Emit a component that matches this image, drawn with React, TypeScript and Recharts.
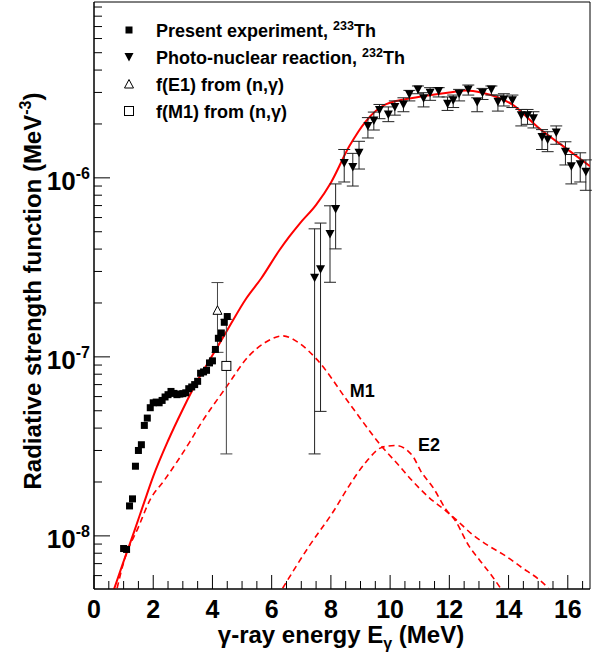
import React from "react";
import {
  ComposedChart,
  Line,
  Scatter,
  XAxis,
  YAxis,
  ErrorBar,
  ReferenceArea,
  ReferenceDot,
} from "recharts";

const FONT = "'Liberation Sans', Arial, Helvetica, sans-serif";
const PLOT_LEFT = 94;
const PLOT_BOTTOM = 589;

// present experiment, 233Th
const presentE = [
  1.0, 1.1, 1.2, 1.3, 1.4, 1.5, 1.6, 1.7, 1.8, 1.9, 2.0, 2.1, 2.2, 2.3, 2.4, 2.5, 2.6, 2.7,
  2.8, 2.9, 3.0, 3.1, 3.2, 3.3, 3.4, 3.5, 3.6, 3.7, 3.8, 3.9, 4.0, 4.1, 4.2, 4.3, 4.4, 4.5,
];
const presentF = [
  8.5e-9, 8.4e-9, 1.47e-8, 1.61e-8, 2.45e-8, 3.0e-8, 3.23e-8, 4.14e-8, 4.55e-8, 5.2e-8,
  5.54e-8, 5.59e-8, 5.54e-8, 5.71e-8, 5.97e-8, 6.15e-8, 6.41e-8, 6.25e-8, 6.15e-8, 6.2e-8,
  6.23e-8, 6.3e-8, 6.64e-8, 6.79e-8, 7.0e-8, 7.3e-8, 8.1e-8, 8.24e-8, 8.41e-8, 9.25e-8,
  9.5e-8, 1.1e-7, 1.27e-7, 1.36e-7, 1.56e-7, 1.68e-7,
];

// photo-nuclear reaction, 232Th
const photoE = [
  7.45, 7.65, 7.97, 8.16, 8.45, 8.74, 8.95, 9.25, 9.45, 9.64, 9.94, 10.16, 10.45, 10.65,
  10.94, 11.13, 11.35, 11.64, 11.94, 12.13, 12.33, 12.64, 12.94, 13.12, 13.42, 13.64, 13.84,
  14.13, 14.43, 14.64, 14.84, 15.13, 15.32, 15.61, 15.92, 16.12, 16.42, 16.61,
];
const photoF = [
  2.77e-7, 3.09e-7, 4.85e-7, 6.69e-7, 1.21e-6, 1.15e-6, 1.38e-6, 1.95e-6, 2.09e-6, 2.39e-6,
  2.26e-6, 2.49e-6, 2.57e-6, 2.93e-6, 3.12e-6, 2.78e-6, 2.99e-6, 3.06e-6, 2.59e-6, 2.71e-6,
  2.95e-6, 3.12e-6, 2.65e-6, 2.99e-6, 3.12e-6, 2.66e-6, 2.74e-6, 2.71e-6, 2.24e-6, 2.24e-6,
  2.15e-6, 1.69e-6, 1.64e-6, 1.79e-6, 1.4e-6, 1.16e-6, 1.19e-6, 1.08e-6,
];
const photoLo = [
  2.87e-8, 4.96e-8, 2.61e-7, 4.01e-7, 9.48e-7, 9.0e-7, 1.12e-6, 1.67e-6, 1.85e-6, 2.14e-6,
  2.06e-6, 2.24e-6, 2.34e-6, 2.69e-6, 2.95e-6, 2.49e-6, 2.71e-6, 2.83e-6, 2.38e-6, 2.47e-6,
  2.69e-6, 2.9e-6, 2.34e-6, 2.74e-6, 2.9e-6, 2.36e-6, 2.52e-6, 2.47e-6, 1.95e-6, 1.99e-6,
  1.9e-6, 1.44e-6, 1.4e-6, 1.54e-6, 1.18e-6, 9.25e-7, 9.48e-7, 8.52e-7,
];
const photoHi = [
  5.19e-7, 5.59e-7, 6.98e-7, 9.25e-7, 1.44e-6, 1.37e-6, 1.6e-6, 2.17e-6, 2.33e-6, 2.57e-6,
  2.49e-6, 2.69e-6, 2.8e-6, 3.08e-6, 3.26e-6, 2.99e-6, 3.19e-6, 3.19e-6, 2.83e-6, 2.9e-6,
  3.12e-6, 3.3e-6, 2.8e-6, 3.16e-6, 3.26e-6, 2.9e-6, 2.95e-6, 2.9e-6, 2.41e-6, 2.41e-6,
  2.34e-6, 1.86e-6, 1.81e-6, 1.95e-6, 1.59e-6, 1.35e-6, 1.38e-6, 1.26e-6,
];

// (n,gamma) values
const e1E = [4.17];
const e1F = [1.82e-7];
const e1Lo = [1.06e-7];
const e1Hi = [2.6e-7];
const m1PointE = [4.47];
const m1PointF = [8.9e-8];
const m1PointLo = [2.87e-8];
const m1PointHi = [1.62e-7];

// model curves
const totalE = [
  0.67, 1.0, 1.35, 1.7, 2.0, 2.5, 3.0, 3.5, 4.0, 4.5, 5.14, 5.65, 6.26, 6.6, 6.94, 7.5, 8.0,
  8.62, 9.18, 9.85, 10.86, 11.5, 12.0, 12.55, 13.11, 14.12, 15.02, 15.92, 16.75,
];
const totalF = [
  5.0e-9, 7.2e-9, 1.05e-8, 1.55e-8, 2.15e-8, 3.4e-8, 5.1e-8, 7.4e-8, 1.02e-7, 1.41e-7,
  2.12e-7, 2.75e-7, 3.94e-7, 4.71e-7, 5.54e-7, 7.07e-7, 9.4e-7, 1.5e-6, 2.07e-6, 2.57e-6,
  2.81e-6, 2.92e-6, 3.0e-6, 3.08e-6, 2.99e-6, 2.57e-6, 1.9e-6, 1.47e-6, 1.16e-6,
];
const m1E = [
  0.78, 1.01, 1.5, 1.91, 2.36, 3.23, 3.57, 4.47, 5.25, 5.81, 6.37, 6.94, 7.5, 8.62, 9.74,
  10.3, 10.75, 11.31, 11.88, 12.21, 12.77, 13.33, 13.9, 14.45, 15.02, 15.35,
];
const m1F = [
  5.1e-9, 7.2e-9, 1.12e-8, 1.61e-8, 2.03e-8, 3.34e-8, 4.14e-8, 6.79e-8, 1.02e-7, 1.21e-7,
  1.31e-7, 1.19e-7, 9.78e-8, 5.5e-8, 3.13e-8, 2.47e-8, 2.03e-8, 1.64e-8, 1.38e-8, 1.24e-8,
  1.02e-8, 8.79e-9, 7.73e-9, 6.65e-9, 5.72e-9, 5.1e-9,
];
const e2E = [6.37, 7.27, 8.06, 8.62, 9.18, 9.74, 10.19, 10.75, 11.03, 11.48, 11.88, 12.21, 12.66, 13.0, 13.44, 13.73];
const e2F = [
  5.1e-9, 8.79e-9, 1.35e-8, 1.91e-8, 2.58e-8, 3.13e-8, 3.2e-8, 2.81e-8, 2.31e-8, 1.83e-8,
  1.41e-8, 1.21e-8, 8.79e-9, 7.4e-9, 5.97e-9, 5.1e-9,
];

// axes
const xDomain = [0, 16.75];
const xTicks = [
  0, 0.5, 1, 1.5, 2, 2.5, 3, 3.5, 4, 4.5, 5, 5.5, 6, 6.5, 7, 7.5, 8, 8.5, 9, 9.5, 10, 10.5,
  11, 11.5, 12, 12.5, 13, 13.5, 14, 14.5, 15, 15.5, 16, 16.5,
];
const xLabels = [0, 2, 4, 6, 8, 10, 12, 14, 16];
const yDomain = [5.05e-9, 9.6e-6];
const yMajor = [1e-8, 1e-7, 1e-6];
const yExp = ["-8", "-7", "-6"];
const yTicks = [
  6e-9, 7e-9, 8e-9, 9e-9, yMajor[0], 2e-8, 3e-8, 4e-8, 5e-8, 6e-8, 7e-8, 8e-8, 9e-8,
  yMajor[1], 2e-7, 3e-7, 4e-7, 5e-7, 6e-7, 7e-7, 8e-7, 9e-7, yMajor[2], 2e-6, 3e-6, 4e-6,
  5e-6, 6e-6, 7e-6, 8e-6, 9e-6,
];

const rows = (e: number[], f: number[]) => e.map((x, i) => ({ e: x, f: f[i] }));
const errRows = (e: number[], f: number[], lo: number[], hi: number[]) =>
  e.map((x, i) => ({ e: x, f: f[i], err: [f[i] - lo[i], hi[i] - f[i]] }));

const presentRows = rows(presentE, presentF);
const photoRows = errRows(photoE, photoF, photoLo, photoHi);
const e1Rows = errRows(e1E, e1F, e1Lo, e1Hi);
const m1PointRows = errRows(m1PointE, m1PointF, m1PointLo, m1PointHi);
const totalRows = rows(totalE, totalF);
const m1Rows = rows(m1E, m1F);
const e2Rows = rows(e2E, e2F);

const FilledSquare = ({ cx, cy }: any) => (
  <rect x={cx - 3.5} y={cy - 3.5} width={7} height={7} fill="#000" />
);
const TriangleDown = ({ cx, cy }: any) => (
  <polygon points={`${cx - 4.5},${cy - 4} ${cx + 4.5},${cy - 4} ${cx},${cy + 4.5}`} fill="#000" />
);
const OpenTriangle = ({ cx, cy }: any) => (
  <polygon points={`${cx - 4.5},${cy + 4} ${cx + 4.5},${cy + 4} ${cx},${cy - 4.5}`} fill="#fff" stroke="#000" />
);
const OpenSquare = ({ cx, cy }: any) => (
  <rect x={cx - 4.5} y={cy - 4.5} width={9} height={9} fill="#fff" stroke="#000" />
);

function XTick({ x, payload }: any) {
  const v = payload.value;
  const major = xLabels.includes(v);
  return (
    <g>
      <line x1={x} x2={x} y1={PLOT_BOTTOM} y2={PLOT_BOTTOM - (major ? 14 : 8)} stroke="#000" />
      {major && (
        <text x={x} y={PLOT_BOTTOM + 29} textAnchor="middle" fontSize={25} fontWeight="bold" fontFamily={FONT} fill="#000">
          {v}
        </text>
      )}
    </g>
  );
}

function YTick({ y, payload }: any) {
  const idx = yMajor.indexOf(payload.value);
  const major = idx >= 0;
  return (
    <g>
      <line x1={PLOT_LEFT} x2={PLOT_LEFT + (major ? 16 : 8)} y1={y} y2={y} stroke="#000" />
      {major && (
        <text x={PLOT_LEFT - 4} y={y + 12} textAnchor="end" fontSize={26} fontWeight="bold" fontFamily={FONT} fill="#000">
          10
          <tspan dy={-11} fontSize={16}>
            {yExp[idx]}
          </tspan>
        </text>
      )}
    </g>
  );
}

const legendItems = [
  { marker: "square", text: "Present experiment, ", sup: "233", tail: "Th" },
  { marker: "tri", text: "Photo-nuclear reaction, ", sup: "232", tail: "Th" },
  { marker: "otri", text: "f(E1) from (n,\u03b3)" },
  { marker: "osq", text: "f(M1) from (n,\u03b3)" },
];

function LegendBox() {
  return (
    <svg width={595} height={130} style={{ position: "absolute", left: 0, top: 0, pointerEvents: "none" }}>
      {legendItems.map((it, i) => {
        const cy = 30 + i * 27;
        const cx = 129;
        return (
          <g key={i}>
            {it.marker === "square" && <FilledSquare cx={cx} cy={cy} />}
            {it.marker === "tri" && <TriangleDown cx={cx} cy={cy} />}
            {it.marker === "otri" && <OpenTriangle cx={cx} cy={cy} />}
            {it.marker === "osq" && <OpenSquare cx={cx} cy={cy} />}
            <text x={156} y={cy + 6.5} fontSize={18} fontWeight="bold" fontFamily={FONT} fill="#000">
              {it.text}
              {it.sup && (
                <tspan dy={-7} fontSize={12.5}>
                  {it.sup}
                </tspan>
              )}
              {it.tail && <tspan dy={7}>{it.tail}</tspan>}
            </text>
          </g>
        );
      })}
    </svg>
  );
}

const curveLabel = (value: string) => ({
  value,
  position: "center" as const,
  fontSize: 18,
  fontWeight: "bold",
  fontFamily: FONT,
  fill: "#000",
});

export default function App() {
  return (
    <div style={{ position: "absolute", left: 0, top: 0, width: 595, height: 655, background: "#fff" }}>
      <ComposedChart width={595} height={655} margin={{ top: 2, right: 5, bottom: 0, left: 0 }}>
        <XAxis
          dataKey="e"
          type="number"
          domain={xDomain}
          ticks={xTicks}
          interval={0}
          height={66}
          allowDataOverflow
          tickLine={false}
          axisLine={{ stroke: "#000" }}
          tick={<XTick />}
          label={{
            content: () => (
              <text x={341} y={643} textAnchor="middle" fontSize={24} fontWeight="bold" fontFamily={FONT} fill="#000">
                {"\u03b3-ray energy E"}
                <tspan dy={6} fontSize={16}>
                  {"\u03b3"}
                </tspan>
                <tspan dy={-6}>{" (MeV)"}</tspan>
              </text>
            ),
          }}
        />
        <YAxis
          dataKey="f"
          type="number"
          scale="log"
          domain={yDomain}
          ticks={yTicks}
          interval={0}
          width={94}
          allowDataOverflow
          tickLine={false}
          axisLine={{ stroke: "#000" }}
          tick={<YTick />}
          label={{
            content: () => (
              <text
                transform="translate(41,291) rotate(-90)"
                textAnchor="middle"
                fontSize={24}
                fontWeight="bold"
                fontFamily={FONT}
                fill="#000"
              >
                Radiative strength function (MeV
                <tspan dy={-10} fontSize={16}>
                  -3
                </tspan>
                <tspan dy={10}>)</tspan>
              </text>
            ),
          }}
        />
        <ReferenceArea
          x1={xDomain[0]}
          x2={xDomain[1]}
          y1={yDomain[0]}
          y2={yDomain[1]}
          fill="none"
          stroke="#000"
          strokeWidth={1}
          ifOverflow="visible"
        />
        <Line data={m1Rows} dataKey="f" type="monotone" stroke="#ff0000" strokeWidth={1.6} strokeDasharray="6 4" dot={false} isAnimationActive={false} />
        <Line data={e2Rows} dataKey="f" type="monotone" stroke="#ff0000" strokeWidth={1.6} strokeDasharray="6 4" dot={false} isAnimationActive={false} />
        <Line data={totalRows} dataKey="f" type="monotone" stroke="#ff0000" strokeWidth={2} dot={false} isAnimationActive={false} />
        <Scatter data={photoRows} dataKey="f" shape={<TriangleDown />} isAnimationActive={false}>
          <ErrorBar dataKey="err" direction="y" width={6} stroke="#222" strokeWidth={1} isAnimationActive={false} />
        </Scatter>
        <Scatter data={e1Rows} dataKey="f" shape={<OpenTriangle />} isAnimationActive={false}>
          <ErrorBar dataKey="err" direction="y" width={6} stroke="#444" strokeWidth={1} isAnimationActive={false} />
        </Scatter>
        <Scatter data={m1PointRows} dataKey="f" shape={<OpenSquare />} isAnimationActive={false}>
          <ErrorBar dataKey="err" direction="y" width={6} stroke="#444" strokeWidth={1} isAnimationActive={false} />
        </Scatter>
        <Scatter data={presentRows} dataKey="f" shape={<FilledSquare />} isAnimationActive={false} />
        <ReferenceDot x={9.06} y={6.47e-8} r={0} fill="none" stroke="none" label={curveLabel("M1")} />
        <ReferenceDot x={11.31} y={3.23e-8} r={0} fill="none" stroke="none" label={curveLabel("E2")} />
      </ComposedChart>
      <LegendBox />
    </div>
  );
}
